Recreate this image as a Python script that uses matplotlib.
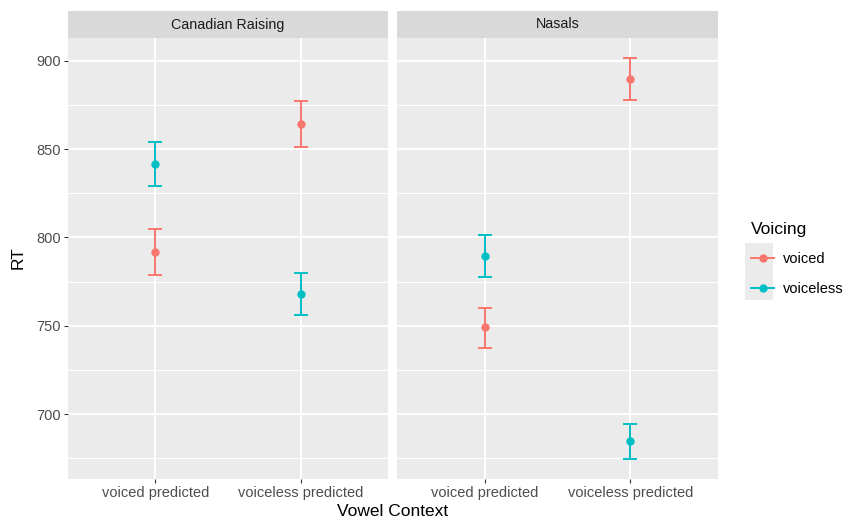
import matplotlib.pyplot as plt
from matplotlib.lines import Line2D
from matplotlib.patches import Rectangle

# data
panels = ['Canadian Raising', 'Nasals']
contexts = ['voiced predicted', 'voiceless predicted']
groups = ['voiced', 'voiceless']
colors = {'voiced': '#F8766D', 'voiceless': '#00BFC4'}

means = {
    'Canadian Raising': {'voiced': [791.8, 864.3], 'voiceless': [841.7, 768.1]},
    'Nasals': {'voiced': [749.4, 889.8], 'voiceless': [789.6, 684.8]},
}
lower = {
    'Canadian Raising': {'voiced': [778.8, 851.3], 'voiceless': [829.2, 756.2]},
    'Nasals': {'voiced': [737.5, 877.9], 'voiceless': [777.7, 674.5]},
}
upper = {
    'Canadian Raising': {'voiced': [804.9, 877.3], 'voiceless': [854.1, 780.0]},
    'Nasals': {'voiced': [760.1, 901.7], 'voiceless': [801.5, 694.3]},
}

plt.rcParams['font.family'] = ['Liberation Sans', 'DejaVu Sans']

W, H = 851, 521
fig = plt.figure(figsize=(W / 100, H / 100), dpi=100)

panel_px = [(68, 388), (397, 718)]
top_px, bot_px, strip_top = 38, 479, 11

for i, name in enumerate(panels):
    x0, x1 = panel_px[i]
    ax = fig.add_axes([x0 / W, 1 - bot_px / H, (x1 - x0) / W, (bot_px - top_px) / H])
    ax.set_facecolor('#EBEBEB')
    for s in ax.spines.values():
        s.set_visible(False)
    ax.set_xlim(0.4, 2.6)
    ax.set_ylim(663.2, 913)
    ax.set_yticks([700, 750, 800, 850, 900])
    ax.set_yticks([675, 725, 775, 825, 875], minor=True)
    ax.set_xticks([1, 2])
    ax.set_xticklabels(contexts)
    ax.grid(True, which='major', color='white', linewidth=1.4)
    ax.grid(True, which='minor', axis='y', color='white', linewidth=0.7)
    ax.set_axisbelow(True)
    ax.tick_params(axis='both', which='major', length=3, color='#333333',
                   labelsize=10.5, labelcolor='#4D4D4D', pad=2)
    ax.tick_params(which='minor', length=0)
    if i > 0:
        ax.tick_params(axis='y', labelleft=False, length=0)

    for g in groups:
        m = means[name][g]
        lo = [a - b for a, b in zip(m, lower[name][g])]
        hi = [b - a for a, b in zip(m, upper[name][g])]
        ax.errorbar([1, 2], m, yerr=[lo, hi], fmt='o', color=colors[g],
                    markersize=5, elinewidth=1.4, capsize=5.3, capthick=1.4)

    # strip
    sax = fig.add_axes([x0 / W, 1 - top_px / H, (x1 - x0) / W, (top_px - strip_top) / H])
    sax.set_facecolor('#D9D9D9')
    sax.set_xticks([])
    sax.set_yticks([])
    for s in sax.spines.values():
        s.set_visible(False)
    sax.text(0.5, 0.5, name, ha='center', va='center', fontsize=10.3,
             color='#1A1A1A', transform=sax.transAxes)

fig.text(18 / W, 1 - 258 / H, 'RT', rotation=90, ha='center', va='center', fontsize=12.5)
fig.text(393 / W, 1 - 512 / H, 'Vowel Context', ha='center', va='center', fontsize=12.5)

# grey legend key background
fig.add_artist(Rectangle((745 / W, 1 - 300 / H), 28 / W, 57 / H,
                         transform=fig.transFigure, facecolor='#EBEBEB',
                         edgecolor='none', zorder=1))

handles = [Line2D([0], [0], color=colors[g], marker='o', markersize=5, linewidth=1.4)
           for g in groups]
leg = fig.legend(handles, groups, title='Voicing', loc='upper left',
                 bbox_to_anchor=(738 / W, 1 - 209 / H), frameon=False,
                 fontsize=10.5, title_fontsize=12.5, handlelength=1.6,
                 handletextpad=0.6, labelspacing=1.05, alignment='left')
leg.set_zorder(5)

fig.savefig('out.png', dpi=100)
